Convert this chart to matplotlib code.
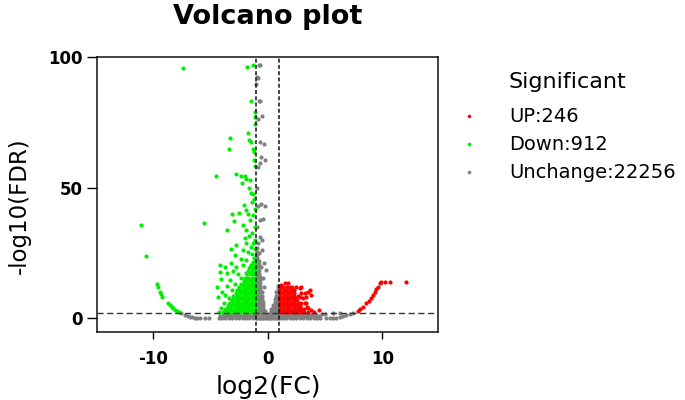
import matplotlib
matplotlib.use("Agg")
import matplotlib.pyplot as plt
from matplotlib.lines import Line2D

# ---------------- data (log2FC, -log10 FDR) ----------------
fc_cuts = [-1, 1]
fdr_cut = 2
x_ticks = [-10, 0, 10]
y_ticks = [0, 50, 100]
legend_labels = ["UP:246", "Down:912", "Unchange:22256"]

down_sparse = [(-7.4, 95.8), (-1.78, 96.2), (-1.28, 97.2), (-1.43, 83.2), (-1.11, 79.2), (-1.08, 77.1),
               (-1.11, 74.5), (-1.69, 71.1), (-3.26, 69.2), (-1.63, 68.2), (-1.46, 67.5), (-3.41, 64.8),
               (-1.28, 65.0), (-1.16, 63.7), (-1.2, 60.5), (-1.1, 58.5), (-4.54, 54.6), (-2.74, 55.4),
               (-2.30, 54.4), (-1.98, 54.4), (-1.86, 53.5), (-1.51, 52.9), (-2.24, 51.8), (-1.66, 50.1),
               (-1.48, 48.0), (-1.28, 47.8), (-1.16, 45.9), (-2.10, 43.3), (-1.4, 44.5), (-2.50, 40.4),
               (-1.72, 40.1), (-1.28, 39.5), (-3.14, 39.9), (-1.9, 41.5), (-1.1, 42.0), (-5.56, 36.6),
               (-11.09, 35.9), (-2.97, 37.3), (-2.15, 35.7), (-1.51, 37.6), (-3.55, 34.0), (-1.86, 33.8),
               (-1.34, 32.7), (-1.14, 35.0), (-1.6, 31.5), (-2.01, 30.6), (-1.28, 28.9), (-1.86, 28.7),
               (-1.1, 30.0), (-3.20, 26.4), (-2.74, 28.0), (-2.15, 26.1), (-1.72, 25.5), (-1.37, 24.8),
               (-10.6, 23.9), (-2.85, 24.2), (-2.30, 22.9), (-1.86, 22.3), (-1.15, 26.5), (-1.5, 27.5),
               (-1.2, 23.0), (-4.19, 20.4), (-3.76, 19.5), (-3.17, 21.0), (-2.74, 19.7), (-2.15, 20.4),
               (-1.57, 19.7), (-4.19, 17.8), (-3.55, 17.2), (-3.03, 18.2), (-4.05, 14.9), (-3.32, 14.6),
               (-4.48, 12.1), (-4.02, 10.2), (-4.34, 8.3), (-3.76, 8.9), (-3.41, 7.6), (-3.6, 12.5),
               (-2.6, 17.0), (-2.3, 15.5), (-1.9, 17.5), (-1.3, 21.0), (-2.0, 14.5), (-2.9, 13.0),
               (-3.1, 11.0), (-3.8, 6.0), (-3.5, 4.5), (-4.1, 3.8), (-4.3, 2.6)]

down_dense = [(-3.9, 2.4), (-3.6, 2.4), (-3.3, 2.4), (-3.0, 2.4), (-2.7, 2.4), (-2.4, 2.4), (-2.1, 2.4),
              (-1.8, 2.4), (-1.5, 2.4), (-1.2, 2.4),
              (-3.7, 3.6), (-3.4, 3.6), (-3.1, 3.6), (-2.8, 3.6), (-2.5, 3.6), (-2.2, 3.6), (-1.9, 3.6),
              (-1.6, 3.6), (-1.3, 3.6), (-1.05, 3.6),
              (-3.5, 4.8), (-3.2, 4.8), (-2.9, 4.8), (-2.6, 4.8), (-2.3, 4.8), (-2.0, 4.8), (-1.7, 4.8),
              (-1.4, 4.8), (-1.1, 4.8),
              (-3.3, 6.0), (-3.0, 6.0), (-2.7, 6.0), (-2.4, 6.0), (-2.1, 6.0), (-1.8, 6.0), (-1.5, 6.0),
              (-1.2, 6.0),
              (-3.1, 7.2), (-2.8, 7.2), (-2.5, 7.2), (-2.2, 7.2), (-1.9, 7.2), (-1.6, 7.2), (-1.3, 7.2),
              (-1.05, 7.2),
              (-3.0, 8.4), (-2.7, 8.4), (-2.4, 8.4), (-2.1, 8.4), (-1.8, 8.4), (-1.5, 8.4), (-1.2, 8.4),
              (-2.8, 9.6), (-2.5, 9.6), (-2.2, 9.6), (-1.9, 9.6), (-1.6, 9.6), (-1.3, 9.6), (-1.05, 9.6),
              (-2.7, 10.8), (-2.4, 10.8), (-2.1, 10.8), (-1.8, 10.8), (-1.5, 10.8), (-1.2, 10.8),
              (-2.5, 12.0), (-2.2, 12.0), (-1.9, 12.0), (-1.6, 12.0), (-1.3, 12.0), (-1.05, 12.0),
              (-2.3, 13.2), (-2.0, 13.2), (-1.7, 13.2), (-1.4, 13.2), (-1.1, 13.2),
              (-2.1, 14.4), (-1.8, 14.4), (-1.5, 14.4), (-1.2, 14.4),
              (-2.0, 15.6), (-1.7, 15.6), (-1.4, 15.6), (-1.1, 15.6),
              (-1.8, 16.8), (-1.5, 16.8), (-1.2, 16.8),
              (-1.7, 18.0), (-1.4, 18.0), (-1.1, 18.0),
              (-1.6, 19.2), (-1.3, 19.2), (-1.05, 19.2),
              (-1.45, 20.4), (-1.15, 20.4), (-1.3, 21.6), (-1.05, 21.6),
              (-3.75, 3.0), (-3.45, 3.0), (-3.15, 3.0), (-2.85, 3.0), (-2.55, 3.0), (-2.25, 3.0),
              (-1.95, 3.0), (-1.65, 3.0), (-1.35, 3.0), (-1.05, 3.0),
              (-3.35, 5.4), (-3.05, 5.4), (-2.75, 5.4), (-2.45, 5.4), (-2.15, 5.4), (-1.85, 5.4),
              (-1.55, 5.4), (-1.25, 5.4),
              (-2.95, 7.8), (-2.65, 7.8), (-2.35, 7.8), (-2.05, 7.8), (-1.75, 7.8), (-1.45, 7.8),
              (-1.15, 7.8),
              (-2.55, 10.2), (-2.25, 10.2), (-1.95, 10.2), (-1.65, 10.2), (-1.35, 10.2), (-1.05, 10.2),
              (-2.05, 12.6), (-1.75, 12.6), (-1.45, 12.6), (-1.15, 12.6),
              (-1.65, 15.0), (-1.35, 15.0), (-1.05, 15.0), (-1.25, 17.4), (-1.55, 17.4)]

down_arc = [(-9.72, 13.0), (-9.63, 12.1), (-9.43, 10.2), (-9.35, 9.2), (-9.2, 8.3), (-8.71, 5.7),
            (-8.56, 5.1), (-8.41, 4.4), (-8.27, 3.8), (-8.12, 3.2), (-7.92, 2.8), (-7.75, 2.5)]

up_dense = [(1.05, 2.4), (1.35, 2.4), (1.65, 2.4), (1.95, 2.4), (2.25, 2.4), (2.55, 2.4), (2.85, 2.4),
            (3.15, 2.4),
            (1.1, 3.6), (1.4, 3.6), (1.7, 3.6), (2.0, 3.6), (2.3, 3.6), (2.6, 3.6), (2.9, 3.6), (3.2, 3.6),
            (1.05, 4.8), (1.35, 4.8), (1.65, 4.8), (1.95, 4.8), (2.25, 4.8), (2.55, 4.8), (2.85, 4.8),
            (1.1, 6.0), (1.4, 6.0), (1.7, 6.0), (2.0, 6.0), (2.3, 6.0), (2.6, 6.0), (2.9, 6.0),
            (1.05, 7.2), (1.35, 7.2), (1.65, 7.2), (1.95, 7.2), (2.25, 7.2), (2.55, 7.2),
            (1.1, 8.4), (1.4, 8.4), (1.7, 8.4), (2.0, 8.4), (2.3, 8.4), (2.6, 8.4),
            (1.05, 9.6), (1.35, 9.6), (1.65, 9.6), (1.95, 9.6), (2.25, 9.6),
            (1.1, 10.8), (1.4, 10.8), (1.7, 10.8), (2.0, 10.8), (2.3, 10.8),
            (1.05, 12.0), (1.35, 12.0), (1.65, 12.0), (2.1, 12.0),
            (1.2, 3.0), (1.5, 3.0), (1.8, 3.0), (2.1, 3.0), (2.4, 3.0), (2.7, 3.0), (3.0, 3.0),
            (1.2, 5.4), (1.5, 5.4), (1.8, 5.4), (2.1, 5.4), (2.4, 5.4), (2.7, 5.4),
            (1.2, 7.8), (1.5, 7.8), (1.8, 7.8), (2.1, 7.8), (2.4, 7.8),
            (1.2, 10.2), (1.5, 10.2), (1.8, 10.2), (2.1, 10.2)]

up_sparse = [(3.81, 8.9), (3.38, 8.3), (3.09, 7.6), (3.67, 10.8), (2.79, 11.5), (2.50, 11.8), (1.78, 13.4),
             (1.48, 13.4), (1.19, 12.7), (4.48, 3.2), (3.52, 3.8), (3.23, 5.7), (1.92, 12.1), (2.94, 11.9),
             (3.23, 9.6), (3.52, 10.2), (2.79, 8.3), (3.38, 5.7), (3.5, 2.6), (3.8, 3.0), (4.0, 2.4),
             (3.4, 4.5), (2.9, 9.6)]

up_arc = [(7.89, 2.8), (8.03, 3.4), (8.33, 4.4), (8.62, 5.7), (8.82, 6.7), (9.0, 7.6), (9.2, 8.9),
          (9.35, 10.2), (9.5, 11.1), (9.63, 12.1), (9.78, 13.4), (9.93, 13.8), (10.22, 13.8),
          (10.66, 13.8), (12.05, 13.8)]

gray_mound = [(-0.93, 0.3), (-0.93, 1.5), (-0.93, 2.7), (-0.93, 3.9), (-0.93, 5.1), (-0.93, 6.3),
              (-0.93, 7.5), (-0.93, 8.7), (-0.93, 9.9), (-0.93, 11.1), (-0.93, 12.3), (-0.93, 13.5),
              (-0.93, 14.7), (-0.93, 15.9), (-0.93, 17.1), (-0.93, 18.3), (-0.93, 19.5), (-0.93, 20.7),
              (-0.93, 21.9), (-0.93, 23.1), (-0.93, 24.3), (-0.93, 25.5), (-0.93, 27.0),
              (-0.80, 0.3), (-0.80, 1.5), (-0.80, 2.7), (-0.80, 3.9), (-0.80, 5.1), (-0.80, 6.3),
              (-0.80, 7.5), (-0.80, 8.7), (-0.80, 9.9), (-0.80, 11.1), (-0.80, 12.3), (-0.80, 13.5),
              (-0.80, 14.7), (-0.80, 15.9), (-0.80, 17.1), (-0.80, 18.3), (-0.80, 19.5), (-0.80, 20.7),
              (-0.80, 22.0),
              (-0.66, 0.3), (-0.66, 1.5), (-0.66, 2.7), (-0.66, 3.9), (-0.66, 5.1), (-0.66, 6.3),
              (-0.66, 7.5), (-0.66, 8.7), (-0.66, 9.9), (-0.66, 11.1), (-0.66, 12.3), (-0.66, 13.5),
              (-0.66, 14.7), (-0.66, 16.0),
              (-0.52, 0.3), (-0.52, 1.5), (-0.52, 2.7), (-0.52, 3.9), (-0.52, 5.1), (-0.52, 6.3),
              (-0.52, 7.5), (-0.52, 8.7), (-0.52, 10.0),
              (-0.38, 0.3), (-0.38, 1.5), (-0.38, 2.7), (-0.38, 3.9), (-0.38, 5.1), (-0.38, 6.3),
              (-0.24, 0.3), (-0.24, 1.5), (-0.24, 2.7), (-0.10, 0.3), (-0.10, 1.3), (0.04, 0.3),
              (0.04, 1.3), (0.18, 0.3), (0.18, 1.5), (0.18, 2.2),
              (0.32, 0.3), (0.32, 1.5), (0.32, 2.7), (0.32, 3.6),
              (0.46, 0.3), (0.46, 1.5), (0.46, 2.7), (0.46, 3.9), (0.46, 5.1),
              (0.60, 0.3), (0.60, 1.5), (0.60, 2.7), (0.60, 3.9), (0.60, 5.1), (0.60, 6.3), (0.60, 7.5),
              (0.74, 0.3), (0.74, 1.5), (0.74, 2.7), (0.74, 3.9), (0.74, 5.1), (0.74, 6.3), (0.74, 7.5),
              (0.74, 8.7), (0.74, 9.9),
              (0.88, 0.3), (0.88, 1.5), (0.88, 2.7), (0.88, 3.9), (0.88, 5.1), (0.88, 6.3), (0.88, 7.5),
              (0.88, 8.7), (0.88, 9.9), (0.88, 11.1), (0.88, 12.2),
              (0.97, 1.0), (0.97, 3.3), (0.97, 5.7), (0.97, 8.1), (0.97, 10.5)]

gray_column = [(-0.79, 96.9), (-0.70, 96.9), (-0.93, 92.4), (-0.83, 91.9), (-0.99, 89.8), (-0.79, 83.4),
               (-0.70, 83.3), (-0.49, 77.6), (-0.84, 76.4), (-0.70, 67.6), (-0.35, 66.6), (-0.55, 61.8),
               (-0.26, 60.8), (-0.64, 59.6), (-0.85, 58.0), (-0.93, 50.1), (-0.61, 43.7), (-0.20, 43.2),
               (-0.85, 43.0), (-0.41, 38.2), (-0.70, 37.6), (-0.90, 35.0), (-0.70, 31.0), (-0.47, 30.0),
               (-0.85, 28.7), (-0.47, 26.1), (-0.75, 25.0), (-0.35, 21.0), (-0.17, 18.5), (-0.55, 19.5),
               (-0.4, 15.5), (-0.3, 12.0)]

gray_base = [(-4.3, 0.3), (-4.0, 0.3), (-3.7, 0.3), (-3.4, 0.3), (-3.1, 0.3), (-2.8, 0.3), (-2.5, 0.3),
             (-2.2, 0.3), (-1.9, 0.3), (-1.6, 0.3), (-1.3, 0.3), (-1.05, 0.3),
             (1.05, 0.3), (1.3, 0.3), (1.6, 0.3), (1.9, 0.3), (2.2, 0.3), (2.5, 0.3), (2.8, 0.3),
             (3.1, 0.3), (3.4, 0.3), (3.7, 0.3), (4.0, 0.3), (4.3, 0.3), (4.6, 0.3),
             (-3.9, 1.3), (-3.6, 1.3), (-3.3, 1.3), (-3.0, 1.3), (-2.7, 1.3), (-2.4, 1.3), (-2.1, 1.3),
             (-1.8, 1.3), (-1.5, 1.3), (-1.2, 1.3),
             (1.2, 1.3), (1.5, 1.3), (1.8, 1.3), (2.1, 1.3), (2.4, 1.3), (2.7, 1.3), (3.0, 1.3),
             (3.3, 1.3), (3.6, 1.3), (3.9, 1.3), (4.2, 1.3),
             (-4.15, 0.8), (-3.85, 0.8), (-3.55, 0.8), (-3.25, 0.8), (-2.95, 0.8), (-2.65, 0.8),
             (-2.35, 0.8), (-2.05, 0.8), (-1.75, 0.8), (-1.45, 0.8), (-1.15, 0.8),
             (1.15, 0.8), (1.45, 0.8), (1.75, 0.8), (2.05, 0.8), (2.35, 0.8), (2.65, 0.8), (2.95, 0.8),
             (3.25, 0.8), (3.55, 0.8), (3.85, 0.8), (4.15, 0.8), (4.45, 0.8),
             (-0.17, 0.8), (0.11, 0.8), (-0.3, 2.1), (0.25, 1.0),
             (4.7, 1.8), (5.0, 1.8), (5.7, 1.9), (6.3, 1.9)]

gray_arcs = [(-7.54, 1.9), (-7.25, 1.3), (-7.0, 0.9), (-6.81, 0.6), (-6.6, 0.4), (-6.38, 0.2),
             (-6.15, 0.1), (-5.94, 0.0), (-5.5, 0.0), (-5.13, 0.0),
             (5.13, 0.0), (5.41, 0.0), (5.7, 0.0), (6.0, 0.2), (6.29, 0.5), (6.58, 0.9), (6.87, 1.3),
             (7.16, 1.6), (7.45, 2.0)]

# ---------------- styling ----------------
RED, GREEN, GRAY = "#FF0000", "#00EE00", "#808080"


def unzip(*groups):
    pts = [p for g in groups for p in g]
    return [p[0] for p in pts], [p[1] for p in pts]


fig = plt.figure(figsize=(6.85, 4.0), dpi=100)
ax = fig.add_axes([0.142, 0.171, 0.4978, 0.687])

gx, gy = unzip(gray_mound, gray_column, gray_base, gray_arcs)
dx, dy = unzip(down_sparse, down_dense, down_arc)
ux, uy = unzip(up_dense, up_sparse, up_arc)
ms = 9
ax.scatter(gx, gy, s=ms, c=GRAY, linewidths=0, zorder=2)
ax.scatter(dx, dy, s=ms, c=GREEN, linewidths=0, zorder=3)
ax.scatter(ux, uy, s=ms, c=RED, linewidths=0, zorder=3)

for c in fc_cuts:
    ax.axvline(c, color="#111111", lw=1.1, dashes=(2.6, 1.5), zorder=4)
ax.axhline(fdr_cut, color="#333333", lw=1.0, dashes=(4.4, 2.6), zorder=4)

ax.set_xlim(-14.9, 14.9)
ax.set_ylim(-5.1, 100.2)
ax.set_xticks(x_ticks)
ax.set_yticks(y_ticks)
ax.set_xticklabels([str(t) for t in x_ticks], fontsize=12, fontweight="bold")
ax.set_yticklabels([str(t) for t in y_ticks], fontsize=12, fontweight="bold")
ax.tick_params(axis="x", length=5, width=1, pad=8.5)
ax.tick_params(axis="y", length=7, width=1, pad=3.5)
for sp in ax.spines.values():
    sp.set_linewidth(1.1)
    sp.set_color("#111111")

fig.text(268 / 685, 1 - 24 / 400, "Volcano plot", ha="center", va="baseline",
         fontsize=19.5, fontweight="bold")
fig.text(268 / 685, 1 - 394 / 400, "log2(FC)", ha="center", va="baseline", fontsize=18)
fig.text(19 / 685, 194 / 400, "-log10(FDR)", ha="center", va="center", rotation=90, fontsize=16.5)

fig.text(508 / 685, 1 - 88.3 / 400, "Significant", ha="left", va="baseline", fontsize=16)
handles = [Line2D([], [], ls="none", marker="o", ms=2.6, mec="none", mfc=c) for c in (RED, GREEN, GRAY)]
fig.legend(handles, legend_labels, loc="upper left", bbox_to_anchor=(453.5 / 685, 1 - 107.5 / 400),
           frameon=False, borderpad=0, borderaxespad=0, handlelength=1.6, handletextpad=1.25,
           labelspacing=0.46, fontsize=14)

fig.savefig("out.png", dpi=100)
